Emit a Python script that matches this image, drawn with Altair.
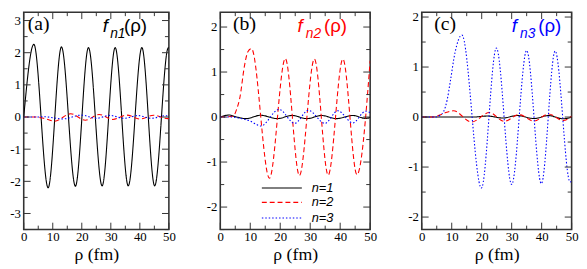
import altair as alt
import pandas as pd

# ---------------- data ----------------
SERIES = ["n=1", "n=2", "n=3"]

# panel (a): f_n1
A1_X = [0, 3.5, 8.4, 13.0, 17.8, 22.3, 27.0, 31.5, 36.0, 40.7, 45.1, 49.8, 50]
A1_Y = [0, 2.26, -2.2, 2.18, -2.15, 2.16, -2.14, 2.16, -2.14, 2.16, -2.14, 2.15, 2.14]
A2_X = [0, 4, 6, 8, 10.6, 16.2, 21.2, 26.0, 30.7, 35.5, 40.0, 44.8, 49.5, 50]
A2_Y = [0, 0, -0.02, -0.07, -0.13, 0.1, -0.1, 0.08, -0.075, 0.06, -0.06, 0.055, -0.05, -0.045]
A3_X = [0, 5, 7, 13.5, 19.8, 25.0, 29.6, 34.5, 39.4, 44.0, 48.8, 50]
A3_Y = [0, 0, 0.01, -0.06, 0.06, -0.04, 0.05, -0.04, 0.045, -0.04, 0.04, 0.03]

# panel (b): f_n2
B1_X = [0, 3, 5, 8.5, 13.5, 19.0, 23.9, 28.9, 33.8, 38.7, 44.2, 48.5, 50]
B1_Y = [0, 0.045, 0.01, -0.035, 0.04, -0.035, 0.035, -0.035, 0.035, -0.035, 0.035, -0.03, -0.01]
B2_X = [0, 4.3, 5.5, 6.5, 8.1, 9.2, 10.4, 16.4, 21.7, 26.4, 31.4, 36.0, 40.9, 45.6, 50]
B2_Y = [0, 0.02, 0.18, 0.42, 1.15, 1.45, 1.52, -1.36, 1.3, -1.3, 1.29, -1.29, 1.29, -1.28, 1.25]
B3_X = [0, 4, 6, 8, 10, 12, 13.5, 19.6, 24.8, 29.4, 34.9, 39.2, 44.2, 48.5, 50]
B3_Y = [0, 0, -0.02, -0.05, -0.09, -0.16, -0.2, 0.17, -0.14, 0.15, -0.14, 0.14, -0.13, 0.13, 0.1]

# panel (c): f_n3
C1_X = [0, 17, 22, 27, 31.9, 37.4, 42.3, 47.2, 50]
C1_Y = [0, 0, 0.02, -0.02, 0.03, -0.03, 0.03, -0.035, 0.0]
C2_X = [0, 3.5, 6, 8, 10.6, 16.6, 22.6, 27.5, 32.5, 37.4, 42.3, 47.2, 50]
C2_Y = [0, 0, 0.04, 0.09, 0.125, -0.1, 0.09, -0.085, 0.05, -0.08, 0.06, -0.07, 0.02]
C3_X = [0, 4.5, 6, 7.3, 8.5, 9.5, 11.1, 13.4, 19.9, 24.9, 30.0, 35.0, 39.9, 44.5, 49.5, 50]
C3_Y = [0, 0, 0.03, 0.11, 0.35, 0.7, 1.29, 1.64, -1.42, 1.38, -1.35, 1.33, -1.33, 1.32, -1.3, -1.28]

X_MAJOR = [0, 10, 20, 30, 40, 50]
X_MINOR = [5, 15, 25, 35, 45]
A_Y_MAJOR = [-3, -2, -1, 0, 1, 2, 3]
A_Y_MINOR = [-3.5, -2.5, -1.5, -0.5, 0.5, 1.5, 2.5]
BC_Y_MAJOR = [-2, -1, 0, 1, 2]
B_Y_MINOR = [-2.5, -1.5, -0.5, 0.5, 1.5]
C_Y_MINOR = [-1.5, -0.5, 0.5, 1.5]

# ---------------- styles ----------------
FRAME = "#333333"
TOP = 8.8          # page y of the plot top (page margin + half frame stroke)
H = 230 - TOP
W_A, W_B, W_C = 147.7, 152.5, 152.5
SERIF = "Liberation Serif"
SANS = "Liberation Sans"
COLORS = ["#000000", "#ff0000", "#0000ff"]
DASHES = [[1, 0], [5, 3], [1.5, 2]]
MAJ, MIN = 7, 4


def make_axes(ymaj):
    xaxis = alt.Axis(values=X_MAJOR, ticks=False, tickSize=0, domain=False, grid=False,
                     labelPadding=1.5, titlePadding=1.5, labelOverlap=False, labelBound=False,
                     labelFlush=False, title="ρ (fm)", orient="bottom",
                     labelExpr="'' + datum.value")
    yaxis = alt.Axis(values=ymaj, ticks=False, tickSize=0, domain=False, grid=False,
                     labelPadding=3.5, labelOverlap=False, labelBound=False,
                     labelFlush=False, title=None, orient="left",
                     labelExpr="'' + datum.value")
    return xaxis, yaxis


def tick_layers(W, xscale, yscale, xaxis, yaxis, ymaj, ymin):
    layers = []
    for vals, ln in ((X_MAJOR, MAJ), (X_MINOR, MIN)):
        d = pd.DataFrame({"x": vals})
        base = alt.Chart(d).mark_rule(color=FRAME, strokeWidth=1)
        xe = alt.X("x:Q", scale=xscale, axis=xaxis, title="ρ (fm)")
        layers.append(base.encode(x=xe, y=alt.value(H), y2=alt.value(H - ln)))
        layers.append(base.encode(x=xe, y=alt.value(0), y2=alt.value(ln)))
    for vals, ln in ((ymaj, MAJ), (ymin, MIN)):
        d = pd.DataFrame({"y": vals})
        base = alt.Chart(d).mark_rule(color=FRAME, strokeWidth=1)
        ye = alt.Y("y:Q", scale=yscale, axis=yaxis, title=None)
        layers.append(base.encode(y=ye, x=alt.value(0), x2=alt.value(ln)))
        layers.append(base.encode(y=ye, x=alt.value(W), x2=alt.value(W - ln)))
    return layers


def txt(s, x, y, size, font, color="black", style="normal"):
    return alt.Chart(pd.DataFrame({"t": [s]})).mark_text(
        align="left", baseline="alphabetic", font=font, fontSize=size,
        fontStyle=style, color=color
    ).encode(text="t:N", x=alt.value(x), y=alt.value(y - TOP))


def panel(W, curves, ydom, ymaj, ymin, letter, sub, fcolor, fx, legend=False):
    rows = []
    for name, xs, ys in curves:
        for a, b in zip(xs, ys):
            rows.append({"x": a, "y": b, "s": name})
    df = pd.DataFrame(rows)
    xscale = alt.Scale(domain=[0, 50], nice=False, zero=False)
    yscale = alt.Scale(domain=ydom, nice=False, zero=False)
    xaxis, yaxis = make_axes(ymaj)
    lines = alt.Chart(df).mark_line(interpolate="monotone", strokeWidth=1.1, clip=True).encode(
        x=alt.X("x:Q", scale=xscale, axis=xaxis, title="ρ (fm)"),
        y=alt.Y("y:Q", scale=yscale, axis=yaxis, title=None),
        color=alt.Color("s:N", scale=alt.Scale(domain=SERIES, range=COLORS), legend=None),
        strokeDash=alt.StrokeDash("s:N", scale=alt.Scale(domain=SERIES, range=DASHES), legend=None),
    )
    layers = [lines] + tick_layers(W, xscale, yscale, xaxis, yaxis, ymaj, ymin)
    layers.append(txt(letter, fx[0], 26.7, 20, SERIF))
    layers.append(txt("f", fx[1], 29, 19, SANS, fcolor, "italic"))
    layers.append(txt(sub, fx[2], 35, 14, SANS, fcolor, "italic"))
    layers.append(txt("(ρ)", fx[3], 29, 19, SANS, fcolor))
    if legend:
        ly = [187.7, 202.3, 218.3]
        for name, col, dash, yy in zip(SERIES, COLORS, DASHES, ly):
            layers.append(
                alt.Chart(pd.DataFrame({"s": [name]})).mark_rule(
                    color=col, strokeDash=dash, strokeWidth=1.1
                ).encode(x=alt.value(42.3), x2=alt.value(83), y=alt.value(yy - TOP))
            )
            layers.append(
                alt.Chart(pd.DataFrame({"t": [name]})).mark_text(
                    align="left", baseline="middle", font=SANS, fontSize=13,
                    fontStyle="italic", color="black"
                ).encode(text="t:N", x=alt.value(93), y=alt.value(yy - TOP))
            )
    return alt.layer(*layers).properties(width=W, height=H)


pa = panel(W_A, [("n=1", A1_X, A1_Y), ("n=2", A2_X, A2_Y), ("n=3", A3_X, A3_Y)],
           [-3.5, 3.26], A_Y_MAJOR, A_Y_MINOR, "(a)", "n1", "black", (4, 80.5, 88, 102))
pb = panel(W_B, [("n=1", B1_X, B1_Y), ("n=2", B2_X, B2_Y), ("n=3", B3_X, B3_Y)],
           [-2.5, 2.33], BC_Y_MAJOR, B_Y_MINOR, "(b)", "n2", "#ff0000", (13, 78.5, 87, 105.5),
           legend=True)
pc = panel(W_C, [("n=1", C1_X, C1_Y), ("n=2", C2_X, C2_Y), ("n=3", C3_X, C3_Y)],
           [-2.25, 2.097], BC_Y_MAJOR, C_Y_MINOR, "(c)", "n3", "#0000ff", (12.7, 91.5, 100, 118.5))

chart = alt.hconcat(pa, pb, pc, spacing=52, bounds="flush").properties(
    padding={"left": 0, "top": 0, "right": 0, "bottom": 0}
).configure_view(
    stroke=FRAME, strokeWidth=1.6
).configure_axis(
    labelFont=SERIF, labelFontSize=13, labelColor="black",
    titleFont=SERIF, titleFontSize=18, titleColor="black", titleFontWeight="normal"
)

chart.save("out.html", embed_options={"renderer": "svg", "actions": False})
